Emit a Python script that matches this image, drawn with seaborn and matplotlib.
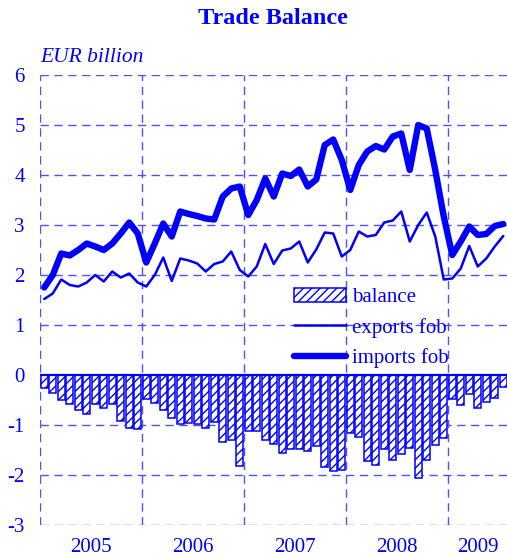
import numpy as np
import pandas as pd
import matplotlib
matplotlib.use("Agg")
import matplotlib.pyplot as plt
import seaborn as sns
from matplotlib.patches import Patch
from matplotlib.lines import Line2D

# ---- data (EUR billion, monthly Jan 2005 - Jul 2009) ----
months = pd.period_range("2005-01", "2009-07", freq="M").astype(str).tolist()

balance = [-0.25, -0.35, -0.49, -0.57, -0.70, -0.77, -0.58, -0.65, -0.57, -0.91, -1.05, -1.07,
           -0.47, -0.55, -0.70, -0.85, -0.97, -0.95, -0.97, -1.05, -0.93, -1.33, -1.30, -1.81,
           -1.12, -1.12, -1.30, -1.37, -1.55, -1.47, -1.47, -1.52, -1.41, -1.83, -1.91, -1.89,
           -1.15, -1.23, -1.71, -1.80, -1.47, -1.70, -1.57, -1.45, -2.05, -1.70, -1.40, -1.25,
           -0.47, -0.59, -0.38, -0.65, -0.53, -0.45, -0.24]

exports_fob = [1.52, 1.63, 1.91, 1.80, 1.77, 1.85, 2.00, 1.87, 2.07, 1.95, 2.03, 1.85,
               1.77, 2.00, 2.35, 1.88, 2.33, 2.29, 2.23, 2.07, 2.22, 2.27, 2.47, 2.10,
               1.97, 2.17, 2.62, 2.22, 2.49, 2.53, 2.67, 2.25, 2.51, 2.85, 2.83, 2.37,
               2.50, 2.87, 2.77, 2.80, 3.05, 3.09, 3.27, 2.67, 3.00, 3.25, 2.77, 1.91,
               1.93, 2.13, 2.58, 2.17, 2.33, 2.57, 2.78]

imports_fob = [1.75, 2.00, 2.43, 2.39, 2.50, 2.63, 2.57, 2.50, 2.63, 2.83, 3.05, 2.83,
               2.25, 2.63, 3.03, 2.77, 3.27, 3.22, 3.18, 3.13, 3.11, 3.57, 3.73, 3.77,
               3.20, 3.50, 3.93, 3.57, 4.03, 3.98, 4.11, 3.77, 3.91, 4.60, 4.71, 4.30,
               3.70, 4.20, 4.47, 4.58, 4.51, 4.77, 4.83, 4.10, 5.00, 4.93, 4.10, 3.17,
               2.40, 2.67, 2.97, 2.80, 2.82, 2.98, 3.02]

years = ["2005", "2006", "2007", "2008", "2009"]
yticks = [-3, -2, -1, 0, 1, 2, 3, 4, 5, 6]

# ---- style ----
BLUE = "#0000ff"
GRID = "#5050ff"
sns.set_style("white")
plt.rcParams["font.family"] = ["Liberation Serif", "DejaVu Serif"]
plt.rcParams["hatch.color"] = "#6a6aff"
plt.rcParams["hatch.linewidth"] = 1.0

# positions derived from month index (centre of each month)
df = pd.DataFrame({"month": months, "balance": balance,
                   "exports": exports_fob, "imports": imports_fob})
df["x"] = np.arange(len(df)) + 0.5

W, H = 507, 559
fig = plt.figure(figsize=(W / 100, H / 100), dpi=100)
ax = fig.add_axes([40 / W, 34 / H, 467.5 / W, 450 / H])

sns.barplot(data=df, x="x", y="balance", native_scale=True, width=0.88,
            color="white", edgecolor=BLUE, linewidth=1.1, ax=ax)
for p in ax.patches:
    p.set_hatch("////")
    p.set_facecolor("white")
    p.set_edgecolor(BLUE)

sns.lineplot(data=df, x="x", y="exports", color=BLUE, lw=1.8, ax=ax,
             solid_joinstyle="round", solid_capstyle="round")
sns.lineplot(data=df, x="x", y="imports", color=BLUE, lw=4.6, ax=ax,
             solid_joinstyle="round", solid_capstyle="round")
ax.axhline(0, color=BLUE, lw=1.6, zorder=3)

ax.set_xlim(0, len(df))
ax.set_ylim(-3, 6)
ax.set_xlabel("")
ax.set_ylabel("")

# year boundaries (major, gridlines) and year labels (minor, centred)
n_years = len(years)
ax.set_xticks([12 * k for k in range(n_years)])
ax.set_xticklabels([])
label_pos = [12 * k + 6 for k in range(n_years - 1)] + [(12 * (n_years - 1) + len(df)) / 2]
ax.set_xticks(label_pos, minor=True)
ax.set_xticklabels(years, minor=True)
ax.set_yticks(yticks)
ax.set_yticklabels([str(v) for v in yticks])

ax.tick_params(axis="both", which="both", length=0, colors=BLUE, labelsize=15)
ax.tick_params(axis="x", which="minor", pad=9)
ax.tick_params(axis="y", pad=11)

ax.grid(True, which="major", color=GRID, lw=1.0, linestyle=(0, (6, 4)))
ax.set_axisbelow(True)
for s in ax.spines.values():
    s.set_visible(False)

handles = [Patch(facecolor="white", edgecolor=BLUE, hatch="////", lw=1.1),
           Line2D([], [], color=BLUE, lw=1.8),
           Line2D([], [], color=BLUE, lw=4.6)]
leg = ax.legend(handles, ["balance", "exports fob", "imports fob"],
                loc="upper left", bbox_to_anchor=(0.543, 0.527),
                frameon=False, fontsize=15, handlelength=2.5,
                handletextpad=0.3, labelspacing=0.5,
                borderaxespad=0, borderpad=0)
for t in leg.get_texts():
    t.set_color(BLUE)

fig.text(273 / W, 1 - 18 / H, "Trade Balance", ha="center", va="center",
         fontsize=17.5, fontweight="bold", color=BLUE)
fig.text(40 / W, 1 - 62 / H, "EUR billion", ha="left", va="baseline",
         fontsize=15.5, fontstyle="italic", color=BLUE)

fig.savefig("out.png", dpi=100)
